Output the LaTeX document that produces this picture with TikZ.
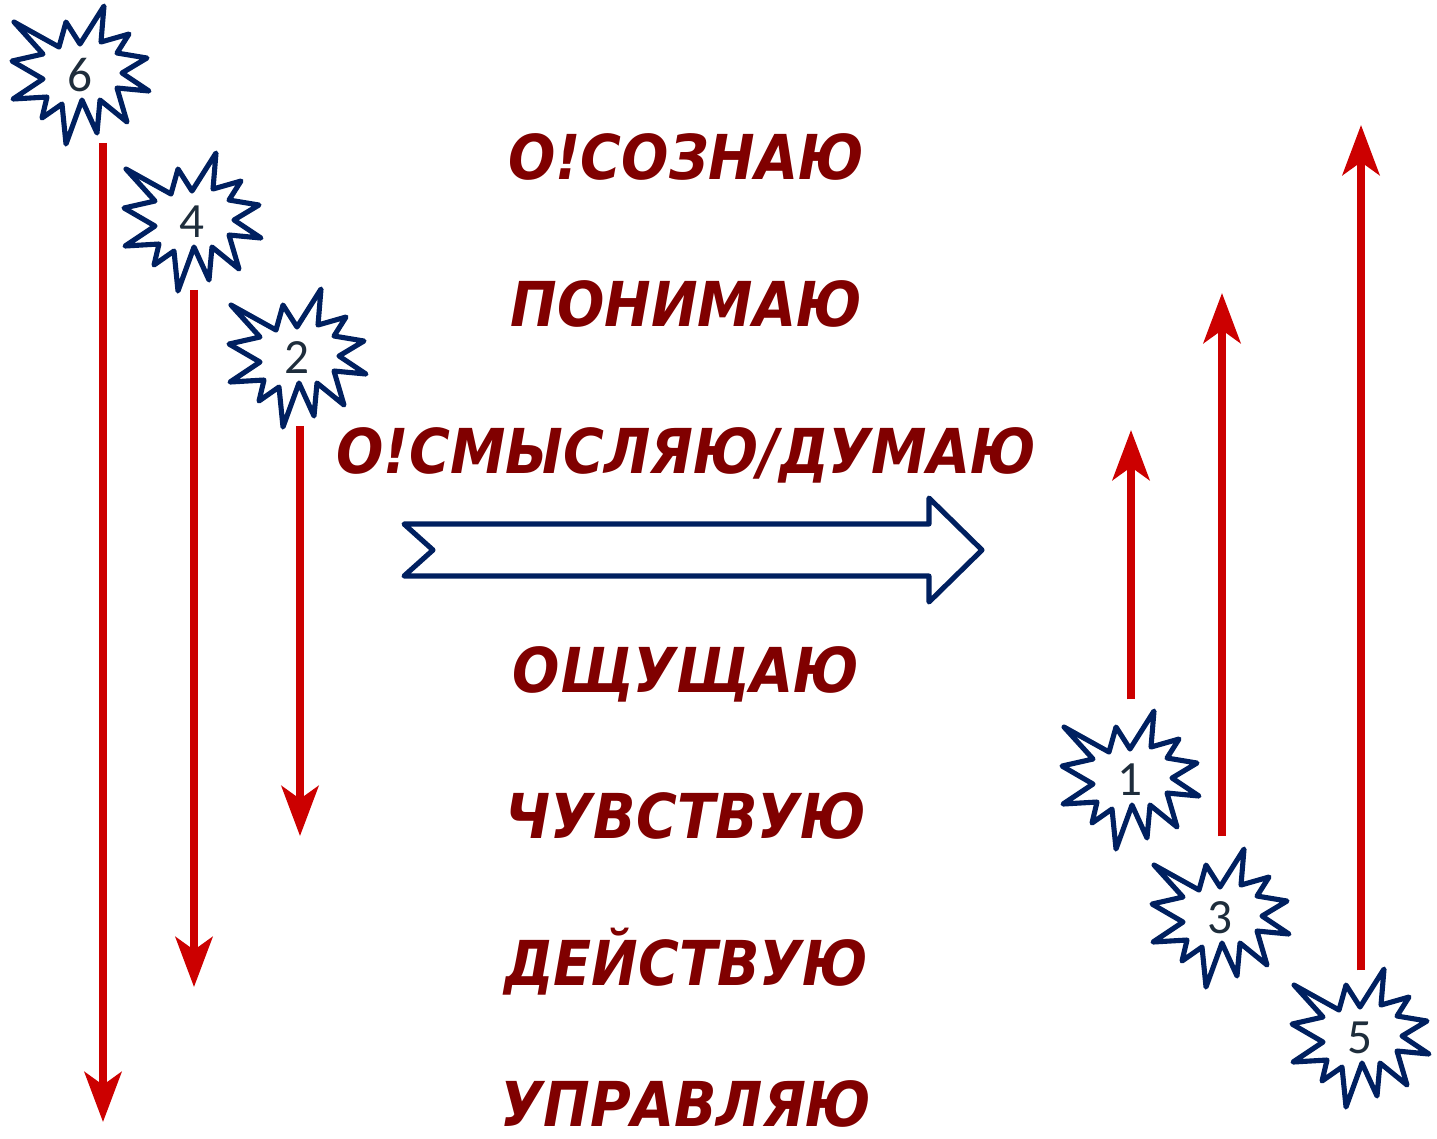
\documentclass[tikz,border=0pt]{standalone}
\usepackage{fontspec}
\usepackage{tikz}
\usetikzlibrary{arrows.meta, positioning, calc}
\newfontfamily\levelfont{DejaVu Sans}[FakeStretch=0.9]
\newfontfamily\numfont{Carlito}
\definecolor{levelred}{RGB}{128,0,0}
\definecolor{arrowred}{RGB}{204,0,0}
\definecolor{burstblue}{RGB}{0,32,96}
\definecolor{numgray}{RGB}{30,45,60}
\tikzset{level/.style={anchor=base,inner sep=0pt,text=levelred,font=\levelfont\bfseries\itshape\fontsize{17.6}{20}\selectfont},
         num/.style={circle,inner sep=0pt,minimum size=1.34cm,text=numgray,font=\numfont\fontsize{14}{16}\selectfont},
         burstline/.style={draw=burstblue,fill=white,line width=1.45pt,line join=round},
         redarrow/.style={draw=arrowred,line width=2.1pt,-{Stealth[length=0.5cm,width=0.37cm,inset=0.13cm]}},
         bigarrow/.style={draw=burstblue,fill=white,line width=1.45pt,line join=round},
         burst/.pic={\path[burstline] (24,-69) -- (21,-33) -- (49,-41) -- (37,-22) -- (67,-17) -- (42,-2)
               -- (69,16) -- (37,13) -- (47,47) -- (20,25) -- (17,58) -- (2,25) -- (-14,69) -- (-18,29)
               -- (-38,43) -- (-33,22) -- (-67,24) -- (-37,4) -- (-68,-14) -- (-37,-21) -- (-66,-53)
               -- (-21,-28) -- (-14,-53) -- (0,-31) -- cycle;}}

\begin{document}
\begin{tikzpicture}[x=0.01cm,y=-0.01cm]
    \useasboundingbox (0,0) rectangle (1437,1138);
    % Levels
    \node (osoznayu) at (686,179) [level]{О!СОЗНАЮ};
    \node (ponimayu) at (686,326) [level]{ПОНИМАЮ};
    \node (osmyslyayu) at (686,473) [level]{О!СМЫСЛЯЮ/ДУМАЮ};
    \node (oshchushchayu) at (686,692) [level]{ОЩУЩАЮ};
    \node (chuvstvuyu) at (686,838) [level]{ЧУВСТВУЮ};
    \node (deystvuyu) at (686,985) [level]{ДЕЙСТВУЮ};
    \node (upravlyayu) at (686,1126) [level]{УПРАВЛЯЮ};
    % Block arrow
    \path[bigarrow] (404,524) -- (929,524) -- (929,498) -- (982,550) -- (929,602) -- (929,576)
        -- (404,576) -- (433,550) -- cycle;
    % Bursts
    \pic at (80,75) {burst};
    \node (s6) at (80,75) [num]{6};
    \pic at (192,222) {burst};
    \node (s4) at (192,222) [num]{4};
    \pic at (297,358) {burst};
    \node (s2) at (297,358) [num]{2};
    \pic at (1130,780) {burst};
    \node (s1) at (1130,780) [num]{1};
    \pic at (1220,918) {burst};
    \node (s3) at (1220,918) [num]{3};
    \pic at (1360,1038) {burst};
    \node (s5) at (1360,1038) [num]{5};
    % Arrow ends
    \coordinate (e6) at (103,1122);
    \coordinate (e4) at (194,987);
    \coordinate (e2) at (300,836);
    \coordinate (e1) at (1131,430);
    \coordinate (e3) at (1222,293);
    \coordinate (e5) at (1361,125);
    % Arrows
    \draw[redarrow] (s6.south -| e6) -- (e6);
    \draw[redarrow] (s4.south -| e4) -- (e4);
    \draw[redarrow] (s2.south -| e2) -- (e2);
    \draw[redarrow,shorten <=0.13cm] (s1.north -| e1) -- (e1);
    \draw[redarrow,shorten <=0.14cm] (s3.north -| e3) -- (e3);
    \draw[redarrow] (s5.north -| e5) -- (e5);
\end{tikzpicture}
\end{document}
